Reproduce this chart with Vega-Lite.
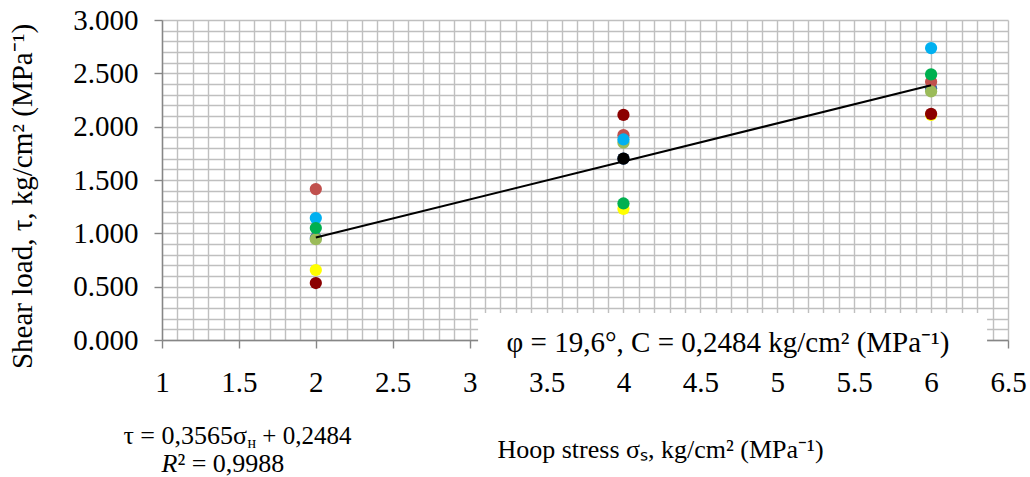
{
  "$schema": "https://vega.github.io/schema/vega-lite/v6.json",
  "width": 846,
  "height": 320,
  "autosize": {"type": "none"},
  "padding": {"left": 162, "top": 20, "right": 22, "bottom": 137},
  "background": "white",
  "config": {
    "view": {"stroke": null},
    "font": "Liberation Serif",
    "text": {"font": "Liberation Serif", "color": "black"},
    "axis": {"labelFont": "Liberation Serif", "labelFontSize": 29, "titleFont": "Liberation Serif"}
  },
  "datasets": {
    "pts": [
      {"x": 2, "y": 0.656, "s": "S3"},
      {"x": 4, "y": 1.23, "s": "S3"},
      {"x": 6, "y": 2.11, "s": "S3"},
      {"x": 2, "y": 0.534, "s": "S1"},
      {"x": 4, "y": 2.11, "s": "S1"},
      {"x": 6, "y": 2.12, "s": "S1"},
      {"x": 2, "y": 0.956, "s": "S6"},
      {"x": 4, "y": 1.70, "s": "S6"},
      {"x": 6, "y": 2.36, "s": "S6"},
      {"x": 2, "y": 1.415, "s": "S2"},
      {"x": 4, "y": 1.92, "s": "S2"},
      {"x": 6, "y": 2.42, "s": "S2"},
      {"x": 2, "y": 0.945, "s": "S7"},
      {"x": 4, "y": 1.85, "s": "S7"},
      {"x": 6, "y": 2.33, "s": "S7"},
      {"x": 2, "y": 1.143, "s": "S4"},
      {"x": 4, "y": 1.88, "s": "S4"},
      {"x": 6, "y": 2.737, "s": "S4"},
      {"x": 2, "y": 1.05, "s": "S5"},
      {"x": 4, "y": 1.28, "s": "S5"},
      {"x": 6, "y": 2.49, "s": "S5"},
      {"x": 4, "y": 1.70, "s": "S8"}
    ],
    "trend": [
      {"x": 2, "y": 0.9614},
      {"x": 6, "y": 2.3874}
    ]
  },
  "layer": [
    {
      "data": {"name": "pts"},
      "mark": {"type": "point", "filled": true, "opacity": 1, "strokeWidth": 0},
      "encoding": {
        "x": {
          "field": "x", "type": "quantitative",
          "scale": {"domain": [1, 6.5], "nice": false, "zero": false},
          "axis": {
            "tickCount": 55,
            "grid": true, "gridColor": "#BFBFBF", "gridWidth": 1.4,
            "domainColor": "#868686", "domainWidth": 1.4,
            "tickSize": 8, "tickWidth": 1.4,
            "tickColor": {"condition": {"test": "abs(datum.value*2-round(datum.value*2))<0.001", "value": "#868686"}, "value": "transparent"},
            "labelExpr": "abs(datum.value*2-round(datum.value*2))<0.001 ? format(datum.value,'~f') : ''",
            "labelFont": "Liberation Serif", "labelFontSize": 29, "labelColor": "black",
            "labelPadding": 20, "labelOverlap": false, "labelFlush": false,
            "title": "Hoop stress σₛ, kg/cm² (MPa⁻¹)",
            "titleFont": "Liberation Serif", "titleFontSize": 26, "titleFontWeight": "normal", "titleColor": "black",
            "titleX": 498, "titleY": 117, "titleAlign": "center", "titleBaseline": "alphabetic"
          }
        },
        "y": {
          "field": "y", "type": "quantitative",
          "scale": {"domain": [0, 3], "nice": false, "zero": false},
          "axis": {
            "tickCount": 30,
            "grid": true, "gridColor": "#BFBFBF", "gridWidth": 1.4,
            "domainColor": "#868686", "domainWidth": 1.4,
            "tickSize": 8, "tickWidth": 1.4,
            "tickColor": {"condition": {"test": "abs(datum.value*2-round(datum.value*2))<0.001", "value": "#868686"}, "value": "transparent"},
            "labelExpr": "abs(datum.value*2-round(datum.value*2))<0.001 ? format(datum.value,'.3f') : ''",
            "labelFont": "Liberation Serif", "labelFontSize": 29, "labelColor": "black",
            "labelPadding": 16, "labelOverlap": false, "labelFlush": false,
            "title": "Shear load, τ, kg/cm² (MPa⁻¹)",
            "titleFont": "Liberation Serif", "titleFontSize": 29, "titleFontWeight": "normal", "titleColor": "black",
            "titleX": -131, "titleY": 176, "titleAlign": "center", "titleBaseline": "alphabetic", "titleAngle": -90
          }
        },
        "color": {
          "field": "s", "type": "nominal", "legend": null,
          "scale": {
            "domain": ["S1", "S2", "S3", "S4", "S5", "S6", "S7", "S8"],
            "range": ["#8B0000", "#C0504D", "#FFFF00", "#00B0F0", "#00B050", "#2F64A8", "#9BBB59", "#000000"]
          }
        },
        "size": {
          "field": "s", "type": "nominal", "legend": null,
          "scale": {
            "domain": ["S1", "S2", "S3", "S4", "S5", "S6", "S7", "S8"],
            "range": [150, 150, 150, 150, 150, 210, 150, 150]
          }
        }
      }
    },
    {
      "data": {"name": "trend"},
      "mark": {"type": "line", "color": "black", "strokeWidth": 2},
      "encoding": {
        "x": {"field": "x", "type": "quantitative"},
        "y": {"field": "y", "type": "quantitative"}
      }
    },
    {
      "data": {"values": [{}]},
      "mark": {"type": "rect", "fill": "white", "clip": false},
      "encoding": {
        "x": {"datum": 3.055, "type": "quantitative"},
        "x2": {"datum": 6.364},
        "y": {"datum": 0.253, "type": "quantitative"},
        "y2": {"datum": -0.2}
      }
    },
    {
      "data": {"values": [{}]},
      "mark": {"type": "text", "fontSize": 29, "align": "center", "baseline": "alphabetic", "clip": false},
      "encoding": {
        "x": {"datum": 4.68, "type": "quantitative"},
        "y": {"datum": -0.112, "type": "quantitative"},
        "text": {"value": "φ = 19,6°, C = 0,2484 kg/cm² (MPa⁻¹)"}
      }
    },
    {
      "data": {"values": [{}]},
      "mark": {"type": "text", "fontSize": 26, "align": "right", "baseline": "alphabetic", "clip": false},
      "encoding": {
        "x": {"datum": 1.553, "type": "quantitative"},
        "y": {"datum": -0.975, "type": "quantitative"},
        "text": {"value": "τ = 0,3565σ"}
      }
    },
    {
      "data": {"values": [{}]},
      "mark": {"type": "text", "fontSize": 16, "align": "left", "baseline": "alphabetic", "clip": false},
      "encoding": {
        "x": {"datum": 1.556, "type": "quantitative"},
        "y": {"datum": -1.012, "type": "quantitative"},
        "text": {"value": "н"}
      }
    },
    {
      "data": {"values": [{}]},
      "mark": {"type": "text", "fontSize": 25, "align": "left", "baseline": "alphabetic", "clip": false},
      "encoding": {
        "x": {"datum": 1.652, "type": "quantitative"},
        "y": {"datum": -0.975, "type": "quantitative"},
        "text": {"value": "+ 0,2484"}
      }
    },
    {
      "data": {"values": [{}]},
      "mark": {"type": "text", "fontSize": 26, "fontStyle": "italic", "align": "right", "baseline": "alphabetic", "clip": false},
      "encoding": {
        "x": {"datum": 1.1, "type": "quantitative"},
        "y": {"datum": -1.237, "type": "quantitative"},
        "text": {"value": "R"}
      }
    },
    {
      "data": {"values": [{}]},
      "mark": {"type": "text", "fontSize": 26, "align": "left", "baseline": "alphabetic", "clip": false},
      "encoding": {
        "x": {"datum": 1.1, "type": "quantitative"},
        "y": {"datum": -1.237, "type": "quantitative"},
        "text": {"value": "² = 0,9988"}
      }
    }
  ]
}
